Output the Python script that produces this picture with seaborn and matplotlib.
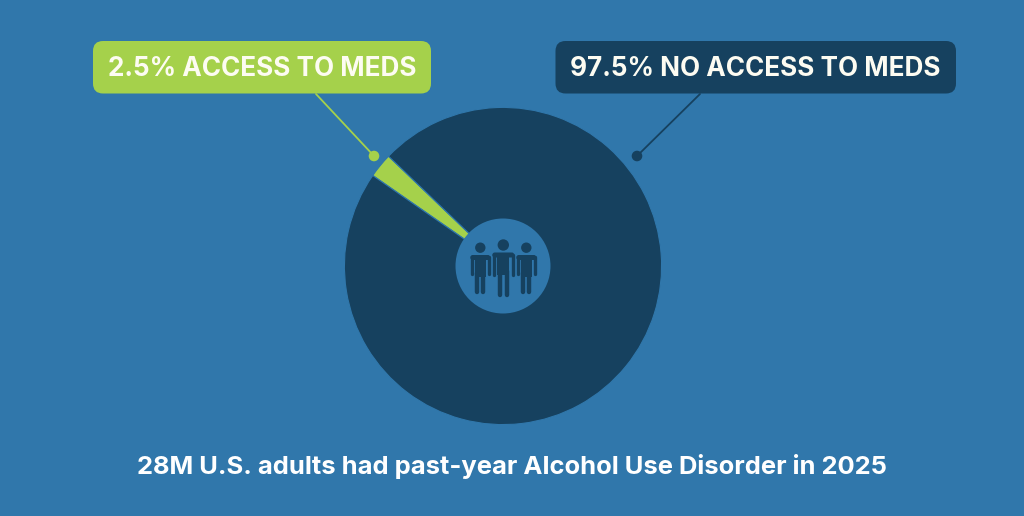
import matplotlib
matplotlib.use("Agg")
import matplotlib.pyplot as plt
import seaborn as sns
from matplotlib.patches import Circle, FancyBboxPatch, Rectangle

categories = ["Access to meds", "No access to meds"]
shares = [2.5, 97.5]
callouts = ["2.5% ACCESS TO MEDS", "97.5% NO ACCESS TO MEDS"]
caption = "28M U.S. adults had past-year Alcohol Use Disorder in 2025"

BLUE, NAVY, GREEN, CREAM = "#3077ab", "#16415f", "#a5d14b", "#fdfcf2"
H = 516

sns.set_theme(style="white")
plt.rcParams["font.family"] = ["Inter", "DejaVu Sans"]

fig = plt.figure(figsize=(10.24, 5.16), dpi=100, facecolor=BLUE)
ax = fig.add_axes([0, 0, 1, 1])
ax.set_facecolor(BLUE)

palette = sns.color_palette([GREEN, NAVY])
ax.pie(shares, colors=palette, startangle=136.2, center=(503, H - 266), radius=158.6, frame=True,
       wedgeprops=dict(edgecolor=BLUE, linewidth=0.8))
ax.set_xlim(0, 1024)
ax.set_ylim(0, H)
ax.set_aspect("equal")
ax.axis("off")

ax.add_patch(Circle((503, H - 266), 47.5, fc=BLUE, ec="none", zorder=3))


def person(cx, head_y, head_r, top, half_w, arm_end, foot):
    # little figure for the icon in the middle, all in px from top left
    y = lambda v: H - v
    torso_w = half_w * 0.54
    ax.add_patch(Circle((cx, y(head_y)), head_r, fc=NAVY, ec="none", zorder=4))
    ax.add_patch(FancyBboxPatch((cx - half_w, y(top + 5)), 2 * half_w, 5,
                                boxstyle="round,pad=0,rounding_size=2.5", fc=NAVY, ec="none", zorder=4))
    ax.add_patch(Rectangle((cx - torso_w, y(top + 22)), 2 * torso_w, 21, fc=NAVY, ec="none", zorder=4))
    for side in (-1, 1):
        arm_x = cx + side * (half_w - 1.7)
        ax.plot([arm_x, arm_x], [y(top + 2), y(arm_end - 1.5)], color=NAVY, lw=2.4,
                solid_capstyle="round", zorder=4)
        leg_x = cx + side * torso_w * 0.54
        ax.plot([leg_x, leg_x], [y(top + 18), y(foot - 2)], color=NAVY, lw=3.2,
                solid_capstyle="round", zorder=4)


person(480.3, 247.7, 5.2, 255, 10, 275, 293.5)
person(526.3, 247.7, 5.2, 255, 10, 275, 293.5)
person(503.3, 245, 5.7, 252.5, 11, 276, 297)

boxes = [(93, 431, GREEN), (555.5, 956, NAVY)]
leaders = [((316, 94), (374, 156), GREEN), ((700, 94), (637, 156), NAVY)]
for (x0, x1, col), txt, (a, b, lc) in zip(boxes, callouts, leaders):
    ax.add_patch(FancyBboxPatch((x0, H - 93.5), x1 - x0, 52.5, boxstyle="round,pad=0,rounding_size=10",
                                fc=col, ec="none", zorder=2))
    ax.plot([a[0], b[0]], [H - a[1], H - b[1]], color=lc, lw=1.3, zorder=2)
    ax.add_patch(Circle((b[0], H - b[1]), 5.3, fc=lc, ec="none", zorder=2))
    ax.text((x0 + x1) / 2, H - 76, txt, color=CREAM, fontsize=18.8, fontweight="bold",
            ha="center", va="baseline", zorder=3)

ax.text(512, H - 474, caption, color="white", fontsize=18.4, fontweight="bold", ha="center", va="baseline")

fig.savefig("out.png", dpi=100, facecolor=BLUE)
